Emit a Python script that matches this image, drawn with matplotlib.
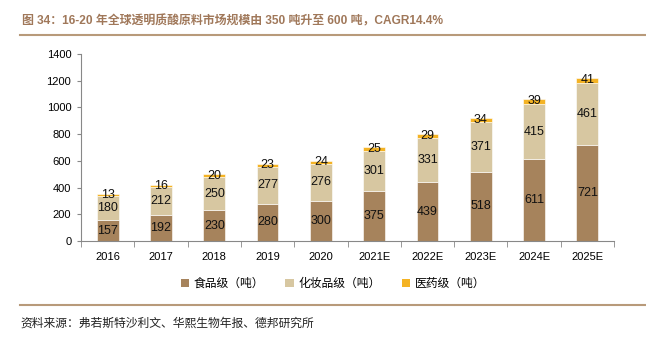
import matplotlib
matplotlib.use("Agg")
import matplotlib.pyplot as plt
from matplotlib.lines import Line2D
from matplotlib.patches import Patch
import numpy as np

plt.rcParams['font.family'] = ['Liberation Sans', 'Noto Sans CJK SC', 'DejaVu Sans']

years = ["2016", "2017", "2018", "2019", "2020", "2021E", "2022E", "2023E", "2024E", "2025E"]
food = [157, 192, 230, 280, 300, 375, 439, 518, 611, 721]
cosmetic = [180, 212, 250, 277, 276, 301, 331, 371, 415, 461]
pharma = [13, 16, 20, 23, 24, 25, 29, 34, 39, 41]
series_names = ["食品级（吨）", "化妆品级（吨）", "医药级（吨）"]
colors = ["#A6835C", "#D7C7A1", "#F4B324"]

title = "图 34：16-20 年全球透明质酸原料市场规模由 350 吨升至 600 吨，CAGR14.4%"
source = "资料来源：弗若斯特沙利文、华熙生物年报、德邦研究所"

fig = plt.figure(figsize=(6.46, 3.37), dpi=100)
ax = fig.add_axes([81/646, 1-241/337, (614-81)/646, (241-54)/337])

x = np.arange(len(years))
w = 0.41
b1 = ax.bar(x, food, w, color=colors[0], edgecolor='white', linewidth=0.4, zorder=2)
b2 = ax.bar(x, cosmetic, w, bottom=food, color=colors[1], edgecolor='white', linewidth=0.4, zorder=2)
bot3 = np.array(food) + np.array(cosmetic)
b3 = ax.bar(x, pharma, w, bottom=bot3, color=colors[2], edgecolor='white', linewidth=0.4, zorder=2)
for bars in (b1, b2, b3):
    ax.bar_label(bars, label_type='center', fontsize=9, color='#111111')

ax.set_xlim(-0.5, len(years) - 0.5)
ax.set_ylim(0, 1400)
ax.set_yticks(range(0, 1401, 200))
ax.set_yticklabels([str(v) for v in range(0, 1401, 200)], fontsize=8)
ax.set_xticks(x)
ax.set_xticklabels(years, fontsize=8)
ax.set_xticks(np.arange(-0.5, len(years)), minor=True)
ax.tick_params(axis='x', which='major', length=0, pad=8)
ax.tick_params(axis='x', which='minor', length=4, color='#888888')
ax.tick_params(axis='y', length=3, color='#888888', pad=4)
for s in ('top', 'right'):
    ax.spines[s].set_visible(False)
ax.spines['left'].set_color('#888888')
ax.spines['bottom'].set_color('#888888')

handles = [Patch(facecolor=c, edgecolor='none') for c in colors]
fig.legend(handles, series_names, loc='center', bbox_to_anchor=(0.5 + 10/646, 1-284/337), ncol=3,
           frameon=False, fontsize=8.5, handlelength=0.7, handleheight=0.7,
           columnspacing=1.8, handletextpad=0.4)

fig.text(22/646, 1-21/337, title, fontsize=8.6, fontweight='bold', color='#A0785A', va='center', ha='left')
fig.add_artist(Line2D([20/646, 1], [1-35/337, 1-35/337], color='#B89A7A', lw=1.5))
fig.add_artist(Line2D([20/646, 1], [1-305/337, 1-305/337], color='#B89A7A', lw=1.5))
fig.text(20/646, 1-324/337, source, fontsize=8.5, color='#222222', va='center', ha='left')

fig.savefig("out.png", dpi=100)
